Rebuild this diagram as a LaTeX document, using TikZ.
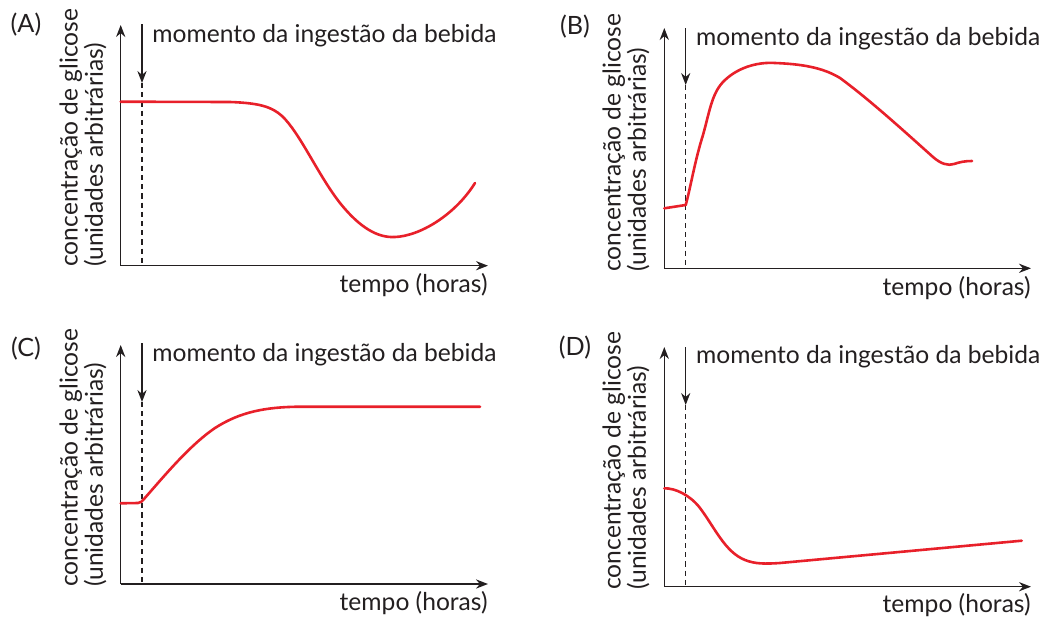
\documentclass[tikz,border=0pt]{standalone}
\usepackage{fontspec}
\setmainfont{Lato}
\usetikzlibrary{arrows.meta}
\definecolor{ink}{HTML}{231F20}
\definecolor{curvered}{HTML}{E8202A}
\tikzset{
  axis/.style={draw=ink, line width=0.75pt, -{Stealth[length=6pt,width=4.6pt]}},
  marker/.style={draw=ink, line width=0.7pt, -{Stealth[length=6pt,width=4.6pt]}},
  guide/.style={draw=ink, line width=0.6pt, dash pattern=on 2.6pt off 2pt},
  curve/.style={draw=curvered, line width=1.3pt, line cap=round, line join=round},
  lbl/.style={text=ink, font=\fontsize{12.3pt}{12.6pt}\selectfont, inner sep=0pt},
  ylbl/.style={lbl, rotate=90, align=left, anchor=west},
  panel/.style={lbl, font=\fontsize{12.6pt}{13pt}\selectfont},
}
\newcommand{\yl}{concentração de glicose\\(unidades arbitrárias)}
\begin{document}
\begin{tikzpicture}[x=0.5pt,y=-0.5pt]
\useasboundingbox (0,0) rectangle (1044,616);
% ---------- Panel A ----------
\node[panel] (pA) at (26,25) {(A)};
\coordinate (oA) at (120.7,265.7);
\coordinate (yA) at (120.7,25);
\coordinate (xA) at (488,265.7);
\coordinate (dtA) at (142,83);
\coordinate (dbA) at (142,265.7);
\coordinate (atA) at (142,24);
\draw[axis] (oA) -- (yA);
\draw[axis] (oA) -- (xA);
\draw[guide] (dtA) -- (dbA);
\draw[marker] (atA) -- (dtA);
\node[lbl, anchor=base west] (mA) at (152,42.7) {momento da ingestão da bebida};
\node[lbl, anchor=base east] (tA) at (488,292) {tempo (horas)};
\node[ylbl] (yLA) at (83,267) {\yl};
\draw[curve] (120.7,101.7) -- (230,102) .. controls (260,103) and (272,107) .. (282,116)
  .. controls (300,133) and (318,175) .. (340,203)
  .. controls (360,228) and (378,238) .. (395,237)
  .. controls (420,236) and (455,215) .. (475,183);
% ---------- Panel B ----------
\node[panel] (pB) at (575,27) {(B)};
\coordinate (oB) at (664.3,268.3);
\coordinate (yB) at (664.3,28);
\coordinate (xB) at (1031,268.3);
\coordinate (dtB) at (685.7,85);
\coordinate (dbB) at (685.7,268.3);
\coordinate (atB) at (685.7,28);
\draw[axis] (oB) -- (yB);
\draw[axis] (oB) -- (xB);
\draw[guide] (dtB) -- (dbB);
\draw[marker] (atB) -- (dtB);
\node[lbl, anchor=base west] (mB) at (695.7,45) {momento da ingestão da bebida};
\node[lbl, anchor=base east] (tB) at (1031,295) {tempo (horas)};
\node[ylbl] (yLB) at (626,272) {\yl};
\draw[curve] (664.3,208.3) -- (685.7,205) .. controls (690,190) and (695,160) .. (703,135)
  .. controls (710,110) and (712,92) .. (725,80)
  .. controls (740,66) and (760,62) .. (775,63)
  .. controls (800,64) and (822,67) .. (840,78)
  .. controls (870,100) and (905,132) .. (933,157)
  .. controls (941,164) and (948,166) .. (954,164)
  .. controls (960,162) and (965,161) .. (972,161);
% ---------- Panel C ----------
\node[panel] (pC) at (26,349) {(C)};
\coordinate (oC) at (120.7,584);
\coordinate (yC) at (120.7,345);
\coordinate (xC) at (488,584);
\coordinate (dtC) at (142,402);
\coordinate (dbC) at (142,584);
\coordinate (atC) at (142,343);
\draw[axis] (oC) -- (yC);
\draw[axis] (oC) -- (xC);
\draw[guide] (dtC) -- (dbC);
\draw[marker] (atC) -- (dtC);
\node[lbl, anchor=base west] (mC) at (152,361) {momento da ingestão da bebida};
\node[lbl, anchor=base east] (tC) at (488,610) {tempo (horas)};
\node[ylbl] (yLC) at (83,587) {\yl};
\draw[curve] (120.7,503.3) -- (138,503) .. controls (141,503) and (142,501) .. (144,499)
  .. controls (165,475) and (190,445) .. (215,428)
  .. controls (240,412) and (265,407) .. (300,406.7) -- (480,406.7);
% ---------- Panel D ----------
\node[panel] (pD) at (575,348) {(D)};
\coordinate (oD) at (664.3,586.7);
\coordinate (yD) at (664.3,347);
\coordinate (xD) at (1031,586.7);
\coordinate (dtD) at (685.7,405);
\coordinate (dbD) at (685.7,586.7);
\coordinate (atD) at (685.7,347);
\draw[axis] (oD) -- (yD);
\draw[axis] (oD) -- (xD);
\draw[guide] (dtD) -- (dbD);
\draw[marker] (atD) -- (dtD);
\node[lbl, anchor=base west] (mD) at (695.7,363) {momento da ingestão da bebida};
\node[lbl, anchor=base east] (tD) at (1031,612) {tempo (horas)};
\node[ylbl] (yLD) at (626,590) {\yl};
\draw[curve] (664.3,488.3) .. controls (675,488) and (690,495) .. (700,508)
  .. controls (715,528) and (725,552) .. (745,560)
  .. controls (755,564) and (765,564) .. (780,563) -- (1021.7,540.7);
\end{tikzpicture}
\end{document}
